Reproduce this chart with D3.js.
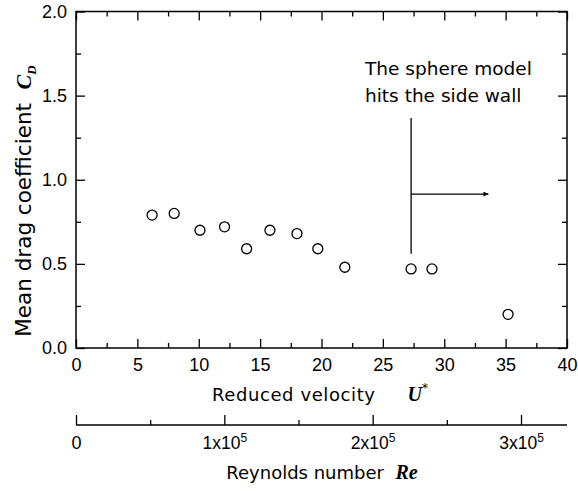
<!DOCTYPE html>
<html>
<head>
<meta charset="utf-8">
<script src="https://cdn.jsdelivr.net/npm/d3@7"></script>
<style>
  body { margin: 0; background: #fff; }
  svg { display: block; }
  .tick text { font-family: "Liberation Sans", Arial, sans-serif; font-size: 18px; fill: #000; }
  .tick line { stroke: #000; stroke-width: 1.3px; }
</style>
</head>
<body>
<div id="chart"></div>
<script>
const reducedVelocity = [6.2, 8.0, 10.1, 12.1, 13.9, 15.8, 18.0, 19.7, 21.9, 27.3, 29.0, 35.2];
const dragCoef        = [0.79, 0.80, 0.70, 0.72, 0.59, 0.70, 0.68, 0.59, 0.48, 0.47, 0.47, 0.20];

const xMajorTicks = [0, 5, 10, 15, 20, 25, 30, 35, 40];
const xMinorTicks = [2.5, 7.5, 12.5, 17.5, 22.5, 27.5, 32.5, 37.5];
const yMajorTicks = [0, 0.5, 1.0, 1.5, 2.0];
const yMinorTicks = [0.25, 0.75, 1.25, 1.75];
const reMajorTicks = [0, 1e5, 2e5, 3e5];
const reMinorTicks = [0.5e5, 1.5e5, 2.5e5];

// side-wall annotation: [U*, CD] of the marker line and arrow
const wallLine  = [[27.3, 1.367], [27.3, 0.56]];
const wallArrow = [[27.3, 0.915], [33.6, 0.915]];
const noteLines = ["The sphere model", "hits the side wall"];

const width = 578, height = 491;
const margin = {left: 76, right: 11, top: 11.5, bottom: 143};
const gap = "\u00a0\u00a0";

const svg = d3.select("#chart").append("svg")
    .attr("width", width)
    .attr("height", height);

const x = d3.scaleLinear().domain([0, 40]).range([margin.left, width - margin.right]);
const y = d3.scaleLinear().domain([0, 2]).range([height - margin.bottom, margin.top]);
const re = d3.scaleLinear().domain([0, 3.31e5]).range([margin.left, width - margin.right]);

const plotBottom = y(0), plotTop = y(2);

// axes with inward ticks
function addAxis(axis, tx, ty) {
    const g = svg.append("g").attr("transform", `translate(${tx},${ty})`).call(axis);
    g.select(".domain").remove();
    return g;
}

addAxis(d3.axisBottom(x).tickValues(xMajorTicks).tickSize(-9).tickPadding(10).tickFormat(d3.format("d")), 0, plotBottom);
addAxis(d3.axisBottom(x).tickValues(xMinorTicks).tickSize(-5).tickFormat(""), 0, plotBottom);
addAxis(d3.axisTop(x).tickValues(xMajorTicks).tickSize(-9).tickFormat(""), 0, plotTop);
addAxis(d3.axisTop(x).tickValues(xMinorTicks).tickSize(-5).tickFormat(""), 0, plotTop);

addAxis(d3.axisLeft(y).tickValues(yMajorTicks).tickSize(-9).tickPadding(9).tickFormat(d3.format(".1f")), margin.left, 0);
addAxis(d3.axisLeft(y).tickValues(yMinorTicks).tickSize(-5).tickFormat(""), margin.left, 0);
addAxis(d3.axisRight(y).tickValues(yMajorTicks).tickSize(-9).tickFormat(""), width - margin.right, 0);
addAxis(d3.axisRight(y).tickValues(yMinorTicks).tickSize(-5).tickFormat(""), width - margin.right, 0);

// frame
svg.append("rect")
    .attr("x", x(0)).attr("y", plotTop)
    .attr("width", x(40) - x(0)).attr("height", plotBottom - plotTop)
    .attr("fill", "none").attr("stroke", "#000").attr("stroke-width", 1.5);

// Reynolds number axis below
const reY = 425;
const reG = addAxis(d3.axisBottom(re).tickValues(reMajorTicks).tickSize(-10).tickFormat(""), 0, reY);
addAxis(d3.axisBottom(re).tickValues(reMinorTicks).tickSize(-5).tickFormat(""), 0, reY);
svg.append("line")
    .attr("x1", re(0)).attr("x2", re.range()[1])
    .attr("y1", reY).attr("y2", reY)
    .attr("stroke", "#000").attr("stroke-width", 1.5);

reG.selectAll(".tick text").each(function(d) {
    const t = d3.select(this).attr("y", 24).attr("dy", null);
    if (d === 0) { t.text("0"); return; }
    t.style("font-size", "17.5px");
    t.append("tspan").text(`${d / 1e5}x10`);
    t.append("tspan").text("5").attr("dy", -7).style("font-size", "12px");
});

// points
svg.append("g")
    .selectAll("circle")
    .data(reducedVelocity.map((u, i) => [u, dragCoef[i]]))
    .join("circle")
    .attr("cx", (d) => x(d[0]))
    .attr("cy", (d) => y(d[1]))
    .attr("r", 5)
    .attr("fill", "none")
    .attr("stroke", "#000")
    .attr("stroke-width", 1.3);

// annotation
svg.append("defs").append("marker")
    .attr("id", "arrow")
    .attr("viewBox", "0 0 10 10")
    .attr("refX", 10).attr("refY", 5)
    .attr("markerWidth", 10).attr("markerHeight", 5)
    .attr("markerUnits", "userSpaceOnUse")
    .attr("orient", "auto")
    .append("path").attr("d", "M0,0 L10,5 L0,10 Z").attr("fill", "#000");

const line = d3.line().x((d) => x(d[0])).y((d) => y(d[1]));
svg.append("path").attr("d", line(wallLine)).attr("stroke", "#000").attr("stroke-width", 1.3);
svg.append("path").attr("d", line(wallArrow)).attr("stroke", "#000").attr("stroke-width", 1.3)
    .attr("marker-end", "url(#arrow)");

svg.append("g")
    .selectAll("text")
    .data(noteLines)
    .join("text")
    .attr("x", 365)
    .attr("y", (d, i) => 75 + i * 27)
    .attr("font-family", "DejaVu Sans, sans-serif")
    .attr("font-size", "18.5px")
    .text((d) => d);

// axis titles
const symbolFont = "Liberation Serif, Times New Roman, serif";

const xTitle = svg.append("text")
    .attr("x", 320).attr("y", 401)
    .attr("text-anchor", "middle")
    .attr("font-family", "DejaVu Sans, sans-serif")
    .attr("font-size", "18px");
xTitle.append("tspan").text("Reduced velocity").attr("letter-spacing", 0.6);
xTitle.append("tspan").text("U").attr("dx", 32).attr("font-family", symbolFont)
    .attr("font-style", "italic").attr("font-weight", "bold").attr("font-size", "20px");
xTitle.append("tspan").text("*").attr("font-size", "12px").attr("dy", -9);

const reTitle = svg.append("text")
    .attr("x", 322).attr("y", 479)
    .attr("text-anchor", "middle")
    .attr("font-family", "DejaVu Sans, sans-serif")
    .attr("font-size", "18px");
reTitle.append("tspan").text("Reynolds number" + gap);
reTitle.append("tspan").text("Re").attr("font-family", symbolFont)
    .attr("font-style", "italic").attr("font-weight", "bold").attr("font-size", "20px");

const yTitle = svg.append("text")
    .attr("transform", "translate(31,201) rotate(-90)")
    .attr("text-anchor", "middle")
    .attr("font-family", "DejaVu Sans, sans-serif")
    .attr("font-size", "21.5px");
yTitle.append("tspan").text("Mean drag coefficient" + gap);
yTitle.append("tspan").text("C").attr("font-family", symbolFont)
    .attr("font-style", "italic").attr("font-weight", "bold").attr("font-size", "22px");
yTitle.append("tspan").text("D").attr("font-family", symbolFont)
    .attr("font-style", "italic").attr("font-weight", "bold").attr("font-size", "13px").attr("dy", 5);
</script>
</body>
</html>
